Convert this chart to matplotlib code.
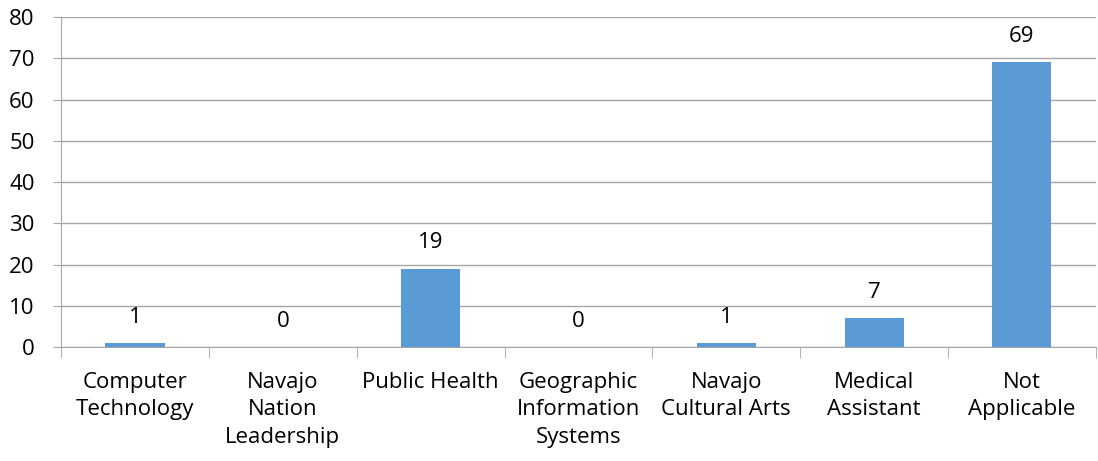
import numpy as np
import matplotlib.pyplot as plt

categories = ["Computer\nTechnology", "Navajo\nNation\nLeadership", "Public Health",
              "Geographic\nInformation\nSystems", "Navajo\nCultural Arts",
              "Medical\nAssistant", "Not\nApplicable"]
values = [1, 0, 19, 0, 1, 7, 69]

plt.rcParams['font.family'] = ['Open Sans', 'DejaVu Sans']

fig = plt.figure(figsize=(10.98, 4.61), dpi=100)
ax = fig.add_axes([0.0556, 0.2473, 0.9424, 0.7157])

x = np.arange(len(categories))
bars = ax.bar(x, values, width=0.4, color='#5B9BD5', zorder=3)

for xi, v in zip(x, values):
    ax.annotate(str(v), (xi, v), xytext=(0, 11), textcoords='offset points',
                ha='center', va='bottom', fontsize=16, color='black')

ax.set_xlim(-0.5, len(categories) - 0.5)
ax.set_ylim(0, 80)
ax.set_yticks(np.arange(0, 81, 10))
ax.yaxis.grid(True, color='#A6A6A6', linewidth=1.0, zorder=0)
ax.tick_params(axis='y', length=6, color='#A6A6A6', labelsize=16, pad=13)

# category labels at centers, tick marks at boundaries
ax.set_xticks(x)
ax.set_xticklabels(categories, fontsize=16, linespacing=1.4)
ax.tick_params(axis='x', which='major', length=0, pad=18)
ax.set_xticks(np.arange(-0.5, len(categories)), minor=True)
ax.tick_params(axis='x', which='minor', length=8, color='#A6A6A6')

for s in ['top', 'right']:
    ax.spines[s].set_visible(False)
ax.spines['left'].set_color('#A6A6A6')
ax.spines['bottom'].set_color('#A6A6A6')

fig.savefig('out.png', dpi=100)
